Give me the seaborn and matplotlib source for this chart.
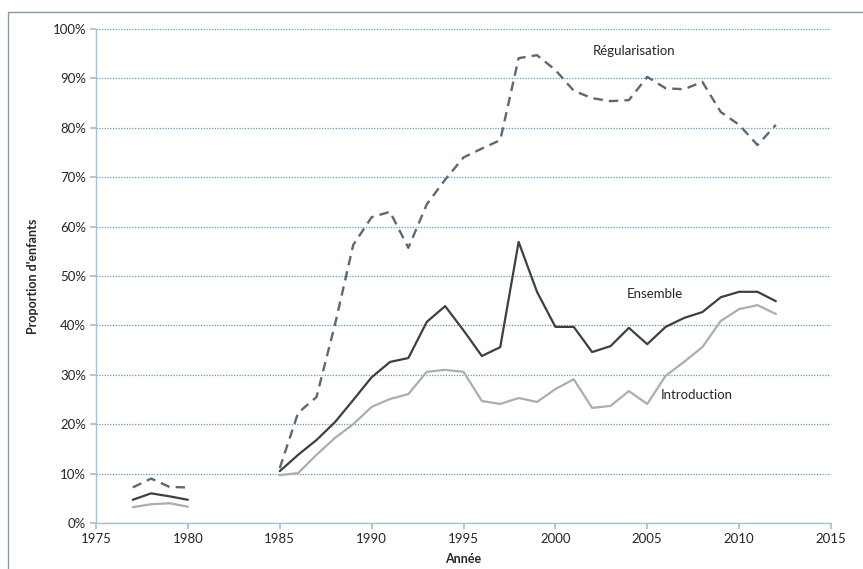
import numpy as np
import pandas as pd
import matplotlib
matplotlib.use("Agg")
import matplotlib.pyplot as plt
from matplotlib.patches import Rectangle
import seaborn as sns

# Années couvertes (pas de données de 1981 à 1984)
annees = [1977, 1978, 1979, 1980,
          1985, 1986, 1987, 1988, 1989, 1990, 1991, 1992, 1993, 1994,
          1995, 1996, 1997, 1998, 1999, 2000, 2001, 2002, 2003, 2004,
          2005, 2006, 2007, 2008, 2009, 2010, 2011, 2012]

# Proportion d'enfants (en %)
regularisation = [7.2, 9.0, 7.3, 7.2,
                  11.1, 22.3, 25.5, 40.1, 56.3, 61.9, 63.0, 55.7, 64.5, 69.5,
                  74.0, 75.8, 77.5, 94.1, 94.7, 91.7, 87.5, 86.0, 85.4, 85.6,
                  90.3, 88.0, 87.8, 89.3, 83.2, 80.6, 76.5, 80.6]
ensemble = [4.7, 6.0, 5.4, 4.7,
            10.5, 13.8, 16.8, 20.4, 24.9, 29.5, 32.6, 33.4, 40.7, 43.9,
            39.0, 33.8, 35.6, 56.9, 46.8, 39.7, 39.7, 34.6, 35.8, 39.5,
            36.2, 39.7, 41.5, 42.7, 45.7, 46.8, 46.8, 44.9]
introduction = [3.2, 3.8, 4.0, 3.3,
                9.7, 10.1, 13.8, 17.2, 20.0, 23.5, 25.1, 26.1, 30.6, 31.0,
                30.6, 24.7, 24.1, 25.3, 24.5, 27.1, 29.1, 23.3, 23.7, 26.7,
                24.1, 29.8, 32.6, 35.6, 40.9, 43.3, 44.1, 42.3]

x_ticks = [1975, 1980, 1985, 1990, 1995, 2000, 2005, 2010, 2015]
y_ticks = [0, 10, 20, 30, 40, 50, 60, 70, 80, 90, 100]

df = pd.DataFrame({
    "Année": annees,
    "Régularisation": np.array(regularisation) / 100,
    "Ensemble": np.array(ensemble) / 100,
    "Introduction": np.array(introduction) / 100,
})
df["periode"] = np.where(df["Année"] <= 1980, 0, 1)

sns.set_theme(style="white")
plt.rcParams["font.family"] = ["Lato", "DejaVu Sans"]

fig = plt.figure(figsize=(8.63, 5.69), dpi=100)
ax = fig.add_axes([96 / 863, 1 - 523 / 569, (831 - 96) / 863, (523 - 29) / 569])

# Cadre du graphique
fig.patches.append(Rectangle((8 / 863, -0.05), 1.1, 1 - 12 / 569 + 0.05,
                             transform=fig.transFigure, fill=False,
                             edgecolor="#8a9aa4", linewidth=1.0))

styles = {
    "Régularisation": dict(color="#5d6870", lw=1.7, dashes=(4, 2.6)),
    "Ensemble": dict(color="#3f3f3f", lw=1.6, dashes=None),
    "Introduction": dict(color="#a9aeb0", lw=1.6, dashes=None),
}

for serie, st in styles.items():
    for _, seg in df.groupby("periode"):
        line_kw = dict(x="Année", y=serie, data=seg, ax=ax, color=st["color"],
                       linewidth=st["lw"], legend=False)
        sns.lineplot(**line_kw)
        if st["dashes"] is not None:
            ax.lines[-1].set_dashes(st["dashes"])

ax.set_xlim(1975, 2015)
ax.set_ylim(0, 1)
ax.set_xticks(x_ticks)
ax.set_xticklabels([str(t) for t in x_ticks])
ax.set_yticks([v / 100 for v in y_ticks])
ax.set_yticklabels([f"{v}%" for v in y_ticks])

ax.yaxis.grid(True, color="#5a9cc6", linestyle=(0, (1, 1.2)), linewidth=0.9)
ax.xaxis.grid(False)
ax.set_axisbelow(True)

for side in ["top", "right"]:
    ax.spines[side].set_visible(False)
for side in ["left", "bottom"]:
    ax.spines[side].set_color("#a9bfcf")
    ax.spines[side].set_linewidth(1.0)

ax.tick_params(axis="both", which="both", direction="out", length=4,
               color="#a9bfcf", labelsize=9.5, labelcolor="#262626",
               bottom=True, left=True, pad=3)

ax.set_xlabel("Année", fontsize=9, fontweight="bold", color="#262626", labelpad=6)
ax.set_ylabel("Proportion d'enfants", fontsize=9, fontweight="bold",
              color="#262626", labelpad=10)

ax.text(2004.3, 0.955, "Régularisation", fontsize=9.5, color="#262626",
        ha="center", va="center")
ax.text(2005.4, 0.463, "Ensemble", fontsize=9.5, color="#262626",
        ha="center", va="center")
ax.text(2007.7, 0.26, "Introduction", fontsize=9.5, color="#262626",
        ha="center", va="center")

fig.savefig("out.png", dpi=100, facecolor="white")
